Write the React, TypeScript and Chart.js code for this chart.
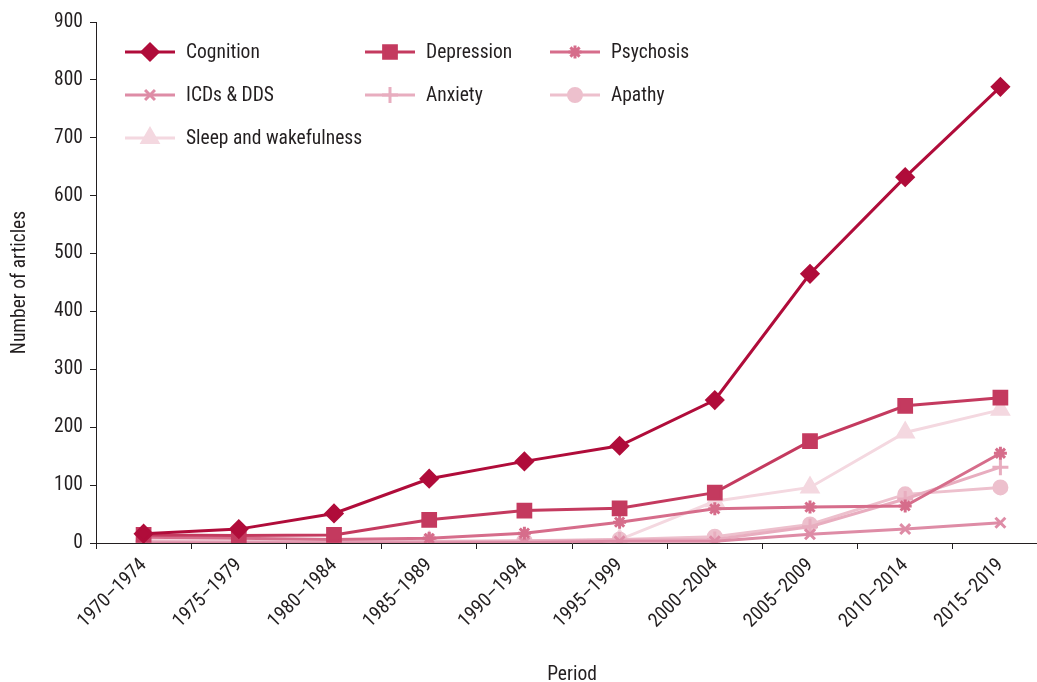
import React, { useEffect, useRef } from "react";
import { Chart, registerables } from "chart.js";
import { drawPoint } from "chart.js/helpers";

Chart.register(...registerables);

const periods = [
  "1970–1974", "1975–1979", "1980–1984", "1985–1989", "1990–1994",
  "1995–1999", "2000–2004", "2005–2009", "2010–2014", "2015–2019",
];

const cognition = [16, 24, 51, 111, 141, 168, 247, 465, 632, 788];
const depression = [14, 13, 14, 40, 56, 60, 87, 176, 237, 251];
const psychosis = [10, 8, 6, 8, 17, 36, 59, 62, 64, 155];
const icdsDds = [0, 0, 0, 0, 1, 3, 3, 15, 24, 35];
const anxiety = [2, 1, 1, 2, 3, 5, 6, 28, 76, 131];
const apathy = [4, 3, 2, 3, 4, 6, 11, 32, 84, 96];
const sleepWake = [3, 2, 2, 2, 3, 6, 72, 96, 191, 230];

const yTicks = [0, 100, 200, 300, 400, 500, 600, 700, 800, 900];

const FONT = "'Liberation Sans Narrow', 'Roboto Condensed', 'DejaVu Sans Condensed', Roboto, sans-serif";
const FS = 19.5;

const seriesDefs = [
  { label: "Cognition", data: cognition, color: "#B00C3A", style: "rectRot", r: 8, col: 0, row: 0 },
  { label: "Depression", data: depression, color: "#C43A5F", style: "rect", r: 9, col: 1, row: 0 },
  { label: "Psychosis", data: psychosis, color: "#D66D8B", style: "star", r: 6.5, col: 2, row: 0 },
  { label: "ICDs & DDS", data: icdsDds, color: "#DE8CA6", style: "crossRot", r: 7, col: 0, row: 1 },
  { label: "Anxiety", data: anxiety, color: "#E8ADBF", style: "cross", r: 8, col: 1, row: 1 },
  { label: "Apathy", data: apathy, color: "#EDC0CD", style: "circle", r: 6.5, col: 2, row: 1 },
  { label: "Sleep and wakefulness", data: sleepWake, color: "#F4D8E0", style: "triangle", r: 9, col: 0, row: 2 },
];

const legendCols = [125, 365, 550];
const legendRows = [52, 95, 138];

const gridLegend = {
  id: "gridLegend",
  afterDraw(chart: any) {
    const ctx = chart.ctx;
    ctx.save();
    seriesDefs.forEach((s) => {
      const x0 = legendCols[s.col];
      const y = legendRows[s.row];
      ctx.strokeStyle = s.color;
      ctx.lineWidth = 3;
      ctx.beginPath();
      ctx.moveTo(x0, y);
      ctx.lineTo(x0 + 50, y);
      ctx.stroke();
      ctx.fillStyle = s.color;
      ctx.strokeStyle = s.color;
      ctx.lineWidth = 3;
      drawPoint(ctx, { pointStyle: s.style as any, radius: s.r, rotation: 0, borderWidth: 3 }, x0 + 25, y);
      ctx.fillStyle = "#231F20";
      ctx.font = `${FS}px ${FONT}`;
      ctx.textBaseline = "middle";
      ctx.textAlign = "left";
      ctx.fillText(s.label, x0 + 61, y + 1);
    });
    ctx.restore();
  },
};

export default function App() {
  const ref = useRef<HTMLCanvasElement>(null);
  useEffect(() => {
    if (!ref.current) return;
    const chart = new Chart(ref.current, {
      type: "line",
      data: {
        labels: periods,
        datasets: seriesDefs.map((s) => ({
          label: s.label,
          data: s.data,
          borderColor: s.color,
          backgroundColor: s.color,
          pointBackgroundColor: s.color,
          pointBorderColor: s.color,
          pointStyle: s.style as any,
          pointRadius: s.r,
          pointBorderWidth: 3,
          borderWidth: 3,
          tension: 0,
        })),
      },
      options: {
        responsive: false,
        animation: false,
        layout: { padding: { top: 22, right: 11, left: 0, bottom: 0 } },
        plugins: {
          legend: { display: false },
          tooltip: { enabled: false },
        },
        scales: {
          x: {
            offset: true,
            grid: { display: true, drawOnChartArea: false, drawTicks: true, tickLength: 6, color: "#231F20", offset: true },
            border: { display: true, color: "#231F20", width: 1 },
            ticks: {
              autoSkip: false,
              maxRotation: 45,
              minRotation: 45,
              color: "#231F20",
              font: { family: FONT, size: FS },
              padding: 5,
            },
            title: {
              display: true,
              text: "Period",
              color: "#231F20",
              font: { family: FONT, size: FS },
              padding: { top: 0, bottom: -5 },
            },
            afterFit: (scale: any) => {
              scale.height = 139;
            },
          },
          y: {
            min: 0,
            max: 900,
            afterBuildTicks: (scale: any) => {
              scale.ticks = yTicks.map((v) => ({ value: v }));
            },
            grid: { display: true, drawOnChartArea: false, drawTicks: true, tickLength: 6, color: "#231F20" },
            border: { display: true, color: "#231F20", width: 1 },
            ticks: {
              color: "#231F20",
              font: { family: FONT, size: FS },
              padding: 7,
            },
            title: {
              display: true,
              text: "Number of articles",
              color: "#231F20",
              font: { family: FONT, size: FS },
              padding: { top: 8, bottom: 0 },
            },
            afterFit: (scale: any) => {
              scale.width = 96;
            },
          },
        },
      },
      plugins: [gridLegend],
    });
    return () => chart.destroy();
  }, []);
  return (
    <div style={{ position: "fixed", left: 0, top: 0, width: "100vw", height: "100vh", overflow: "hidden", background: "#fff" }}>
      <canvas ref={ref} width={1060} height={682} style={{ display: "block", width: 1060, height: 682 }} />
    </div>
  );
}
